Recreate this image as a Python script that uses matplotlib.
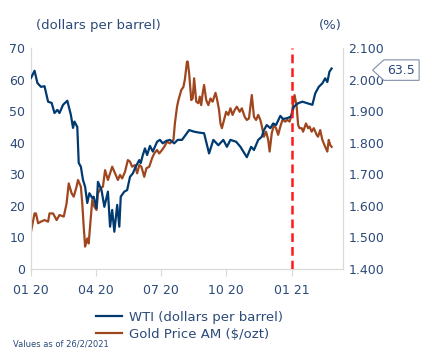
import pandas as pd
import numpy as np
import matplotlib
matplotlib.use("Agg")
import matplotlib.pyplot as plt
import matplotlib.dates as mdates
from matplotlib.path import Path
from matplotlib.transforms import blended_transform_factory

# Data (days counted from 1 Jan 2020)
wti_days = [0, 5, 9, 14, 19, 24, 29, 33, 37, 40, 45, 51, 56, 59, 61, 65, 67, 70, 73, 76,
            79, 82, 86, 88, 92, 94, 99, 103, 108, 111, 114, 117, 121, 124, 126, 131, 135,
            139, 143, 147, 152, 154, 157, 160, 163, 167, 171, 177, 181, 185, 190, 195, 201,
            206, 212, 222, 229, 236, 243, 250, 256, 263, 270, 275, 280, 288, 294, 303, 309,
            313, 319, 324, 327, 331, 336, 340, 344, 350, 354, 360, 365, 369, 375, 381, 388,
            395, 399, 404, 409, 413, 416, 419, 422]
wti = [60.5, 62.8, 58.9, 57.7, 57.9, 53.0, 52.6, 49.4, 50.4, 49.4, 52.0, 53.3, 48.8, 44.7,
       46.7, 45.0, 33.6, 32.4, 28.2, 26.0, 20.9, 24.0, 22.5, 22.9, 19.3, 27.6, 25.0, 19.7,
       24.5, 13.4, 18.7, 11.8, 20.3, 13.4, 22.9, 24.5, 25.0, 29.2, 30.3, 32.4, 34.5, 33.5,
       36.1, 38.2, 36.1, 39.0, 37.2, 40.3, 40.9, 39.8, 40.6, 40.9, 39.8, 40.9, 40.9, 44.0,
       43.5, 43.2, 43.0, 36.6, 40.9, 39.2, 40.9, 38.7, 40.9, 40.3, 38.7, 35.4, 38.7, 37.7,
       40.9, 41.9, 44.0, 45.6, 44.6, 46.1, 45.6, 48.5, 47.5, 47.8, 48.3, 51.4, 52.5, 53.0,
       52.5, 52.0, 55.6, 57.7, 58.8, 60.4, 59.2, 62.5, 63.5]

gold_days = [0, 5, 7, 10, 14, 19, 24, 26, 31, 36, 40, 46, 50, 53, 57, 60, 64, 66, 70, 72,
             74, 76, 79, 81, 84, 86, 89, 92, 94, 98, 101, 104, 108, 111, 114, 118, 122, 125,
             128, 132, 136, 139, 142, 146, 149, 152, 155, 159, 162, 166, 170, 173, 177, 180,
             184, 187, 191, 195, 200, 202, 205, 207, 211, 214, 216, 219, 220, 222, 225, 227,
             229, 232, 235, 237, 239, 241, 243, 246, 249, 252, 255, 259, 261, 264, 266, 268,
             271, 274, 277, 280, 283, 286, 289, 293, 296, 300, 303, 306, 308, 310, 313, 316,
             319, 322, 324, 327, 330, 333, 335, 338, 341, 344, 347, 350, 353, 357, 360, 363,
             366, 368, 370, 373, 375, 377, 380, 382, 386, 389, 391, 394, 397, 401, 403, 406,
             409, 413, 416, 418, 420, 422]
gold = [1.518, 1.576, 1.576, 1.545, 1.550, 1.555, 1.550, 1.576, 1.576, 1.555, 1.571, 1.566,
        1.608, 1.671, 1.640, 1.629, 1.661, 1.682, 1.661, 1.608, 1.534, 1.471, 1.497, 1.481,
        1.566, 1.619, 1.597, 1.587, 1.640, 1.656, 1.661, 1.713, 1.682, 1.703, 1.724, 1.703,
        1.682, 1.698, 1.687, 1.708, 1.745, 1.740, 1.724, 1.729, 1.703, 1.729, 1.724, 1.692,
        1.719, 1.724, 1.751, 1.766, 1.777, 1.766, 1.777, 1.787, 1.803, 1.798, 1.809, 1.861,
        1.914, 1.935, 1.967, 1.977, 2.000, 2.057, 2.057, 2.020, 1.935, 1.940, 2.004, 1.930,
        1.925, 1.946, 1.919, 1.956, 1.983, 1.935, 1.919, 1.940, 1.930, 1.958, 1.940, 1.904,
        1.861, 1.846, 1.872, 1.898, 1.888, 1.909, 1.888, 1.904, 1.914, 1.898, 1.909, 1.882,
        1.872, 1.877, 1.914, 1.951, 1.882, 1.872, 1.888, 1.872, 1.853, 1.819, 1.835, 1.809,
        1.772, 1.830, 1.856, 1.846, 1.825, 1.851, 1.872, 1.867, 1.872, 1.867, 1.888, 1.925,
        1.951, 1.914, 1.856, 1.846, 1.846, 1.835, 1.861, 1.846, 1.851, 1.835, 1.846, 1.825,
        1.819, 1.840, 1.809, 1.787, 1.772, 1.809, 1.793, 1.787]

start = pd.Timestamp("2020-01-01")
wti_dates = start + pd.to_timedelta(wti_days, unit="D")
gold_dates = start + pd.to_timedelta(gold_days, unit="D")

last_value = 63.5
event_date = pd.Timestamp("2021-01-01")
x_ticks = pd.to_datetime(["2020-01-01", "2020-04-01", "2020-07-01", "2020-10-01", "2021-01-01"])

navy = "#003A70"
brown = "#A0461E"
txt = "#2B4A78"
grey = "#D9D9D9"

plt.rcParams["font.family"] = ["DejaVu Sans"]

fig = plt.figure(figsize=(4.28, 3.59), dpi=100)
ax = fig.add_axes([0.0724, 0.2507, 0.7290, 0.6156])
ax2 = ax.twinx()

ax.plot(wti_dates, wti, color=navy, lw=1.6, label="WTI (dollars per barrel)", zorder=3)
ax2.plot(gold_dates, gold, color=brown, lw=1.6, label="Gold Price AM ($/ozt)", zorder=2)
ax.axvline(event_date, color="#FF1A1A", lw=1.8, ls=(0, (3.5, 2)), zorder=4)

ax.set_zorder(ax2.get_zorder() + 1)
ax.patch.set_visible(False)

ax.set_ylim(0, 70)
ax.set_yticks(range(0, 71, 10))
ax2.set_ylim(1.4, 2.1)
ax2.set_yticks(np.arange(1.4, 2.101, 0.1))
ax2.yaxis.set_major_formatter(matplotlib.ticker.FormatStrFormatter("%.3f"))
ax.set_xlim(pd.Timestamp("2020-01-01"), pd.Timestamp("2021-03-14"))
ax.set_xticks(x_ticks)
ax.xaxis.set_major_formatter(mdates.DateFormatter("%m %y"))

for a in (ax, ax2):
    for s in a.spines.values():
        s.set_color(grey)
        s.set_linewidth(0.8)
    a.spines["top"].set_visible(False)
    a.tick_params(colors=txt, labelsize=9, length=0, pad=4)
ax.tick_params(axis="x", length=5, color=grey, pad=6)

fig.text(0.085, 0.93, "(dollars per barrel)", color=txt, fontsize=9.5, va="center")
fig.text(0.744, 0.93, "(%)", color=txt, fontsize=9.5, va="center")


def tag_box(x0, y0, width, height, mutation_size):
    pad = mutation_size * 0.3
    x0, y0 = x0 - pad, y0 - pad
    width, height = width + 2 * pad, height + 2 * pad
    tip = height * 0.55
    verts = [(x0 - tip, y0 + height / 2), (x0, y0 + height), (x0 + width, y0 + height),
             (x0 + width, y0), (x0, y0), (x0 - tip, y0 + height / 2)]
    return Path(verts, closed=True)


trans = blended_transform_factory(ax.transAxes, ax.transData)
ax.text(1.143, last_value - 0.5, f"{last_value:.1f}", transform=trans, color=txt, fontsize=9,
        va="center", ha="left", clip_on=False,
        bbox=dict(boxstyle=tag_box, fc="white", ec="#7F8FA9", lw=0.8))

h1, l1 = ax.get_legend_handles_labels()
h2, l2 = ax2.get_legend_handles_labels()
fig.legend(h1 + h2, l1 + l2, loc="upper left", bbox_to_anchor=(0.212, 0.149),
           frameon=False, fontsize=9.5, labelcolor=txt, handlelength=2.0,
           handletextpad=0.5, borderaxespad=0, labelspacing=0.3)

fig.text(0.03, 0.035, "Values as of 26/2/2021", color=txt, fontsize=6)

fig.savefig("out.png", dpi=100)
